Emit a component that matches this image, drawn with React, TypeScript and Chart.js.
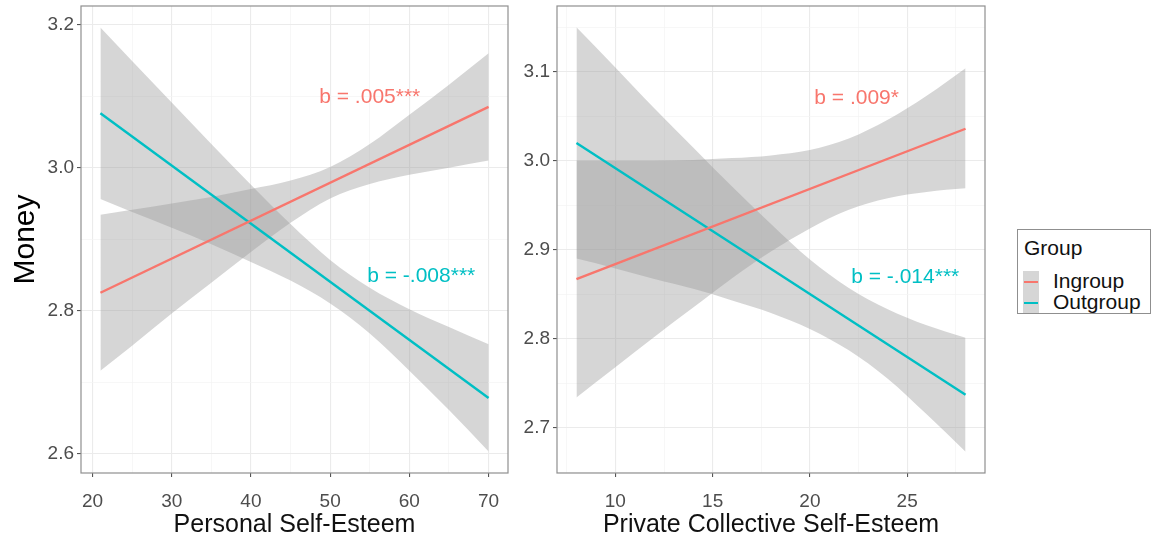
import React, { useEffect, useRef } from 'react';
import { Chart, registerables } from 'chart.js';

Chart.register(...registerables);

const FONT = '"Liberation Sans", Arial, Helvetica, sans-serif';
const INGROUP = '#F8766D';
const OUTGROUP = '#00BFC4';
const BAND = 'rgba(153,153,153,0.4)';

// ---------- Left panel: Personal Self-Esteem ----------
const leftLineX = [21, 70];
const leftIngroupFit = [2.825, 3.085];
const leftOutgroupFit = [3.076, 2.678];
const leftBandX = [21, 25, 30, 35, 40, 45, 50, 55, 60, 65, 70];
const leftIngroupLower = [2.716, 2.751, 2.796, 2.839, 2.882, 2.923, 2.957, 2.977, 2.99, 3.0, 3.01];
const leftIngroupUpper = [2.934, 2.941, 2.95, 2.959, 2.97, 2.982, 3.001, 3.033, 3.074, 3.116, 3.16];
const leftOutgroupLower = [2.956, 2.938, 2.916, 2.893, 2.868, 2.842, 2.81, 2.768, 2.716, 2.661, 2.603];
const leftOutgroupUpper = [3.196, 3.149, 3.091, 3.033, 2.976, 2.921, 2.871, 2.832, 2.802, 2.777, 2.753];
const leftXTicks = [20, 30, 40, 50, 60, 70];
const leftXMinor = [25, 35, 45, 55, 65];
const leftYTicks = [2.6, 2.8, 3.0, 3.2];
const leftYMinor = [2.7, 2.9, 3.1];
const leftLabels = ['b = .005***', 'b = -.008***'];
const leftLabelX = [55, 61.5];
const leftLabelY = [3.098, 2.848];

// ---------- Right panel: Private Collective Self-Esteem ----------
const rightLineX = [8, 28];
const rightIngroupFit = [2.867, 3.036];
const rightOutgroupFit = [3.02, 2.737];
const rightBandX = [8, 10, 12, 14, 16, 18, 20, 22, 24, 26, 28];
const rightIngroupLower = [2.734, 2.768, 2.802, 2.835, 2.868, 2.898, 2.924, 2.945, 2.958, 2.965, 2.969];
const rightIngroupUpper = [3.0, 3.0, 3.0, 3.001, 3.003, 3.006, 3.012, 3.025, 3.046, 3.073, 3.104];
const rightOutgroupLower = [2.89, 2.879, 2.867, 2.856, 2.843, 2.829, 2.811, 2.787, 2.755, 2.715, 2.673];
const rightOutgroupUpper = [3.15, 3.105, 3.059, 3.015, 2.971, 2.929, 2.889, 2.857, 2.833, 2.815, 2.801];
const rightXTicks = [10, 15, 20, 25];
const rightXMinor = [7.5, 12.5, 17.5, 22.5, 27.5];
const rightYTicks = [2.7, 2.8, 2.9, 3.0, 3.1];
const rightYMinor = [2.65, 2.75, 2.85, 2.95, 3.05, 3.15];
const rightLabels = ['b = .009*', 'b = -.014***'];
const rightLabelX = [22.4, 24.9];
const rightLabelY = [3.07, 2.869];

const groups = ['Ingroup', 'Outgroup'];

const pts = (xs: number[], ys: number[]) => xs.map((x, i) => ({ x, y: ys[i] }));
const isIn = (v: number, arr: number[]) => arr.some((a) => Math.abs(a - v) < 1e-9);

const decorPlugin = {
  id: 'panelDecor',
  afterDatasetsDraw(chart: any, _args: any, opts: any) {
    const { ctx, chartArea, scales } = chart;
    ctx.save();
    ctx.font = `21px ${FONT}`;
    ctx.textAlign = 'center';
    ctx.textBaseline = 'middle';
    (opts.labels || []).forEach((t: string, i: number) => {
      ctx.fillStyle = opts.colors[i];
      ctx.fillText(t, scales.x.getPixelForValue(opts.xs[i]), scales.y.getPixelForValue(opts.ys[i]));
    });
    ctx.strokeStyle = '#8f8f8f';
    ctx.lineWidth = 1.2;
    ctx.strokeRect(chartArea.left, chartArea.top, chartArea.right - chartArea.left, chartArea.bottom - chartArea.top);
    ctx.restore();
  },
};

type PanelProps = {
  left: number;
  width: number;
  yAxisWidth: number;
  xMin: number;
  xMax: number;
  yMin: number;
  yMax: number;
  xTicks: number[];
  xMinor: number[];
  yTicks: number[];
  yMinor: number[];
  xTitle: string;
  yTitle?: string;
  lineX: number[];
  inFit: number[];
  outFit: number[];
  bandX: number[];
  inLower: number[];
  inUpper: number[];
  outLower: number[];
  outUpper: number[];
  labels: string[];
  labelX: number[];
  labelY: number[];
};

function Panel(p: PanelProps) {
  const ref = useRef<HTMLCanvasElement>(null);
  useEffect(() => {
    if (!ref.current) return;
    const gridColor = (major: number[]) => (ctx: any) =>
      ctx.tick && isIn(ctx.tick.value, major) ? '#EBEBEB' : '#F4F4F4';
    const gridWidth = (major: number[]) => (ctx: any) =>
      ctx.tick && isIn(ctx.tick.value, major) ? 1.1 : 0.7;
    const tickColor = (major: number[]) => (ctx: any) =>
      ctx.tick && isIn(ctx.tick.value, major) ? '#555555' : 'rgba(0,0,0,0)';
    const bandStyle = {
      borderColor: 'rgba(0,0,0,0)',
      borderWidth: 0,
      pointRadius: 0,
      backgroundColor: BAND,
      cubicInterpolationMode: 'monotone' as const,
      order: 2,
    };
    const chart = new Chart(ref.current, {
      type: 'line',
      data: {
        datasets: [
          { label: groups[0], data: pts(p.lineX, p.inFit), borderColor: INGROUP, borderWidth: 2.4, pointRadius: 0, fill: false, order: 0 },
          { label: groups[1], data: pts(p.lineX, p.outFit), borderColor: OUTGROUP, borderWidth: 2.4, pointRadius: 0, fill: false, order: 0 },
          { label: 'in-lo', data: pts(p.bandX, p.inLower), ...bandStyle, fill: false },
          { label: 'in-hi', data: pts(p.bandX, p.inUpper), ...bandStyle, fill: 2 },
          { label: 'out-lo', data: pts(p.bandX, p.outLower), ...bandStyle, fill: false },
          { label: 'out-hi', data: pts(p.bandX, p.outUpper), ...bandStyle, fill: 4 },
        ] as any,
      },
      options: {
        animation: false,
        responsive: false,
        events: [],
        layout: { padding: { top: 6, right: 7, left: 0, bottom: 0 } },
        plugins: {
          legend: { display: false },
          tooltip: { enabled: false },
          panelDecor: {
            labels: p.labels,
            xs: p.labelX,
            ys: p.labelY,
            colors: [INGROUP, OUTGROUP],
          },
        } as any,
        scales: {
          x: {
            type: 'linear',
            min: p.xMin,
            max: p.xMax,
            afterBuildTicks: (s: any) => {
              s.ticks = [...p.xTicks, ...p.xMinor].sort((a, b) => a - b).map((v) => ({ value: v }));
            },
            ticks: {
              autoSkip: false,
              maxRotation: 0,
              padding: 13,
              color: '#4D4D4D',
              font: { family: FONT, size: 19 },
              callback: (v: any) => (isIn(Number(v), p.xTicks) ? String(v) : ''),
            },
            grid: {
              color: gridColor(p.xTicks),
              lineWidth: gridWidth(p.xTicks),
              tickColor: tickColor(p.xTicks),
              tickWidth: 1.1,
              tickLength: 4,
            },
            border: { display: false },
            title: {
              display: true,
              text: p.xTitle,
              color: '#111',
              font: { family: FONT, size: 25, lineHeight: 1 },
              padding: { top: 0, bottom: 1 },
            },
            afterFit: (s: any) => {
              s.height = 66;
              s.paddingLeft = 0;
              s.paddingRight = 0;
              s.paddingTop = 0;
              s.paddingBottom = 0;
            },
          },
          y: {
            type: 'linear',
            min: p.yMin,
            max: p.yMax,
            afterBuildTicks: (s: any) => {
              s.ticks = [...p.yTicks, ...p.yMinor].sort((a, b) => a - b).map((v) => ({ value: v }));
            },
            ticks: {
              autoSkip: false,
              padding: 3,
              color: '#4D4D4D',
              font: { family: FONT, size: 19 },
              callback: (v: any) => (isIn(Number(v), p.yTicks) ? Number(v).toFixed(1) : ''),
            },
            grid: {
              color: gridColor(p.yTicks),
              lineWidth: gridWidth(p.yTicks),
              tickColor: tickColor(p.yTicks),
              tickWidth: 1.1,
              tickLength: 4,
            },
            border: { display: false },
            title: {
              display: !!p.yTitle,
              text: p.yTitle || '',
              color: '#000',
              font: { family: FONT, size: 30, lineHeight: 1 },
              padding: { top: 11, bottom: 0 },
            },
            afterFit: (s: any) => {
              s.width = p.yAxisWidth;
              s.paddingLeft = 0;
              s.paddingRight = 0;
              s.paddingTop = 0;
              s.paddingBottom = 0;
            },
          },
        },
      },
      plugins: [decorPlugin],
    });
    return () => chart.destroy();
  }, []);
  return (
    <canvas
      ref={ref}
      width={p.width}
      height={539}
      style={{ position: 'absolute', left: p.left, top: 0, width: p.width, height: 539 }}
    />
  );
}

function Legend() {
  const keyTop = [270, 291];
  const colors = [INGROUP, OUTGROUP];
  return (
    <div
      style={{
        position: 'absolute',
        left: 1017,
        top: 229,
        width: 134,
        height: 85,
        border: '1.2px solid #8f8f8f',
        boxSizing: 'border-box',
        fontFamily: FONT,
        background: '#fff',
      }}
    >
      <div style={{ position: 'absolute', left: 6, top: 6, fontSize: 21, lineHeight: '24px', color: '#111' }}>Group</div>
      {groups.map((g, i) => (
        <React.Fragment key={g}>
          <div
            style={{
              position: 'absolute',
              left: 5,
              top: keyTop[i] - 229,
              width: 16,
              height: 21,
              background: '#D6D6D6',
            }}
          >
            <div style={{ position: 'absolute', left: 1, right: 1, top: 9.5, height: 2, background: colors[i] }} />
          </div>
          <div
            style={{
              position: 'absolute',
              left: 35,
              top: keyTop[i] - 229 - 1,
              fontSize: 21,
              lineHeight: '22px',
              color: '#111',
              whiteSpace: 'nowrap',
            }}
          >
            {g}
          </div>
        </React.Fragment>
      ))}
    </div>
  );
}

export default function App() {
  return (
    <div style={{ position: 'fixed', left: 0, top: 0, width: 1154, height: 539, background: '#fff', overflow: 'hidden' }}>
      <Panel
        left={0}
        width={515}
        yAxisWidth={81}
        xMin={18.55}
        xMax={72.45}
        yMin={2.573}
        yMax={3.226}
        xTicks={leftXTicks}
        xMinor={leftXMinor}
        yTicks={leftYTicks}
        yMinor={leftYMinor}
        xTitle="Personal Self-Esteem"
        yTitle="Money"
        lineX={leftLineX}
        inFit={leftIngroupFit}
        outFit={leftOutgroupFit}
        bandX={leftBandX}
        inLower={leftIngroupLower}
        inUpper={leftIngroupUpper}
        outLower={leftOutgroupLower}
        outUpper={leftOutgroupUpper}
        labels={leftLabels}
        labelX={leftLabelX}
        labelY={leftLabelY}
      />
      <Panel
        left={515}
        width={477}
        yAxisWidth={42}
        xMin={7.0}
        xMax={29.0}
        yMin={2.649}
        yMax={3.174}
        xTicks={rightXTicks}
        xMinor={rightXMinor}
        yTicks={rightYTicks}
        yMinor={rightYMinor}
        xTitle="Private Collective Self-Esteem"
        lineX={rightLineX}
        inFit={rightIngroupFit}
        outFit={rightOutgroupFit}
        bandX={rightBandX}
        inLower={rightIngroupLower}
        inUpper={rightIngroupUpper}
        outLower={rightOutgroupLower}
        outUpper={rightOutgroupUpper}
        labels={rightLabels}
        labelX={rightLabelX}
        labelY={rightLabelY}
      />
      <Legend />
    </div>
  );
}
